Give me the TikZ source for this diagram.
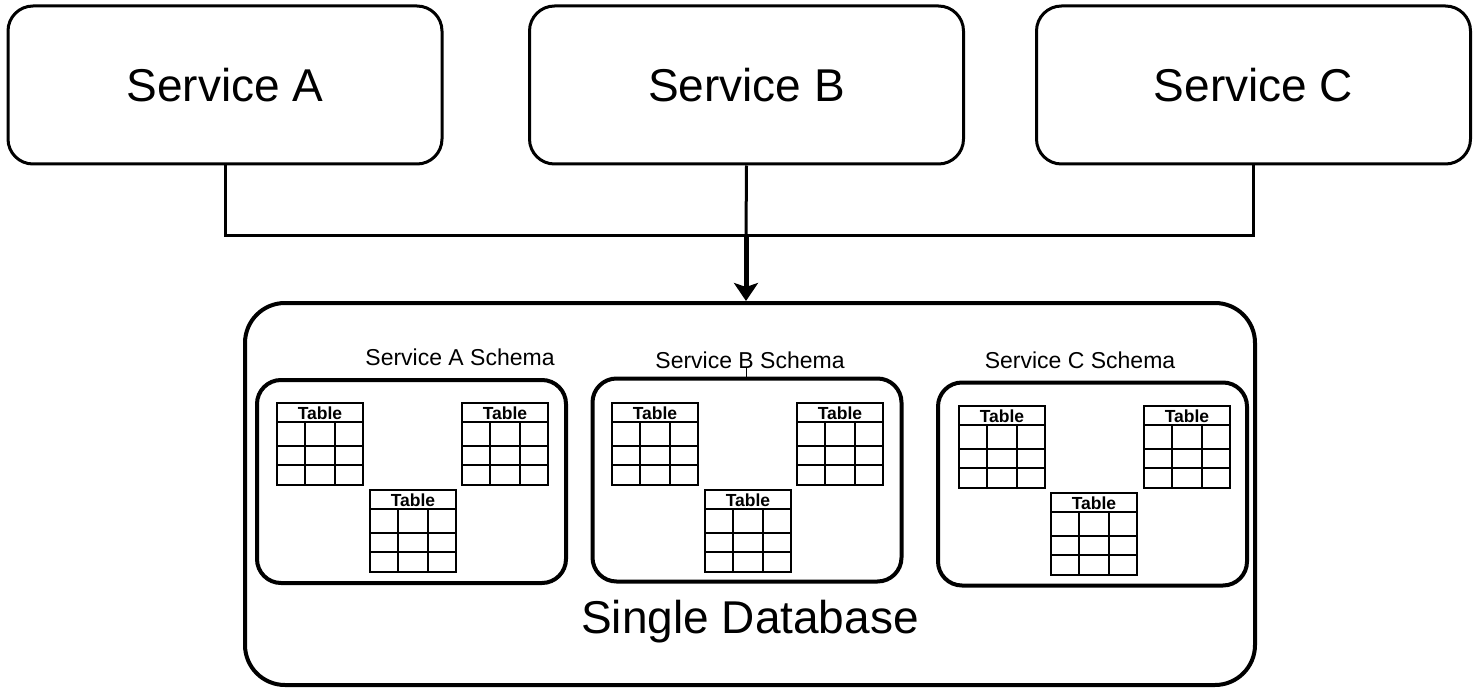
\documentclass[tikz,border=0pt]{standalone}
\usepackage{fontspec}
\setmainfont{Liberation Sans}
\usetikzlibrary{arrows.meta}
\tikzset{
 svc/.style={draw, line width=3pt, rounded corners=25pt, minimum width=434pt, minimum height=158pt, inner sep=0pt, font=\fontsize{46}{54}\selectfont},
 schemabox/.style={draw, line width=4pt, rounded corners=24pt, minimum width=309pt, minimum height=203pt, inner sep=0pt},
 dbbox/.style={draw, line width=4pt, rounded corners=40pt, minimum width=1010pt, minimum height=382pt, inner sep=0pt},
 conn/.style={line width=3pt},
 tbl/.style={line width=1.8pt},
 tlabel/.style={font=\bfseries\fontsize{17.5}{19}\selectfont, inner sep=0pt},
 slabel/.style={font=\fontsize{23}{26}\selectfont, inner sep=0pt},
 biglabel/.style={font=\fontsize{46}{54}\selectfont, inner sep=0pt},
}
\newcommand{\mytable}[3]{%
 \draw[tbl] (#1,#2) rectangle ++(86,82);
 \draw[tbl] (#1,#2+19) -- ++(86,0);
 \draw[tbl] (#1,#2+43) -- ++(86,0);
 \draw[tbl] (#1,#2+62) -- ++(86,0);
 \draw[tbl] (#1+28,#2+19) -- ++(0,63);
 \draw[tbl] (#1+58,#2+19) -- ++(0,63);
 \node[tlabel] (#3) at (#1+43,#2+10.5) {Table};
}
\begin{document}
\begin{tikzpicture}[x=1pt,y=-1pt]
\useasboundingbox (0,0) rectangle (1478,690);
\node[svc] (sa) at (225,85) {Service A};
\node[svc] (sb) at (746.5,85) {Service B};
\node[svc] (sc) at (1253.5,85) {Service C};
\node[dbbox] (db) at (750,494) {};
\coordinate (j) at (746,235);
\draw[conn] (sa.south) |- (j) -| (sc.south);
\draw[conn] (sb.south) -- (j);
\draw[line width=5pt, -{Stealth[length=18pt,width=24pt,inset=4pt]}] (j) -- (j |- db.north);
\node[schemabox] (sas) at (411.5,481.5) {};
\node[schemabox] (sbs) at (747,480) {};
\node[schemabox] (scs) at (1092.5,484) {};
\node[slabel] (la) at (460,357) {Service A Schema};
\node[slabel] (lb) at (750,360) {Service B Schema};
\node[slabel] (lc) at (1080,360) {Service C Schema};
\coordinate (tick) at (746,367);
\draw[line width=1pt] (tick) -- (tick |- sbs.north);
\node[biglabel] (single) at (750,622) {Single Database};
\mytable{277}{403}{ta1}
\mytable{462}{403}{ta2}
\mytable{370}{490}{ta3}
\mytable{612}{403}{tb1}
\mytable{797}{403}{tb2}
\mytable{705}{490}{tb3}
\mytable{959}{406}{tc1}
\mytable{1144}{406}{tc2}
\mytable{1051}{493}{tc3}
\end{tikzpicture}
\end{document}
